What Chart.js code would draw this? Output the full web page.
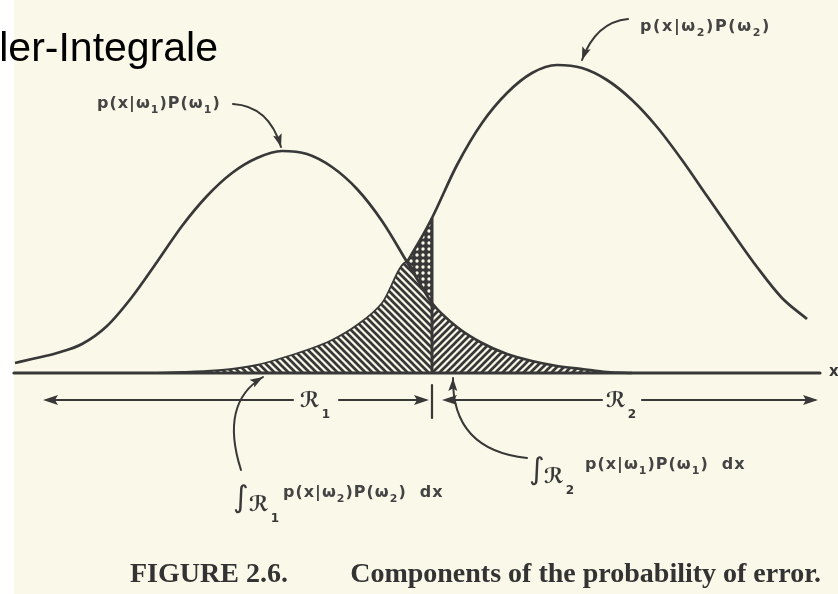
<!DOCTYPE html>
<html>
<head>
<meta charset="utf-8">
<script src="https://cdn.jsdelivr.net/npm/chart.js@4.4.1/dist/chart.umd.min.js"></script>
<style>
  html, body { margin: 0; padding: 0; background: #fff; }
  #wrap { width: 838px; height: 594px; }
</style>
</head>
<body>
<div id="wrap"><canvas id="c" width="838" height="594"></canvas></div>
<script>
// shared x grid for both class curves
const xs = [-8.34, -8, -7.5, -7, -6.5, -6, -5.5, -5, -4.5, -4, -3.5, -3, -2.5, -2, -1.5, -1,
            -0.5, -0.25, 0, 0.5, 1, 1.5, 2, 2.5, 3, 3.5, 4, 4.5, 5, 5.5, 6, 6.5, 7, 7.5];
// p(x|w1)P(w1)
const p1 = [0.10, 0.14, 0.20, 0.29, 0.47, 0.76, 1.11, 1.47, 1.77, 2.00, 2.15, 2.22, 2.19, 2.06, 1.84, 1.52,
            1.11, 0.90, 0.70, 0.46, 0.30, 0.19, 0.12, 0.07, 0.04, 0.01, 0.00, null, null, null, null, null, null, null];
// p(x|w2)P(w2)
const p2 = [null, null, null, null, null, null, 0.00, 0.01, 0.02, 0.04, 0.08, 0.15, 0.23, 0.33, 0.48, 0.70,
            1.11, 1.32, 1.55, 2.08, 2.50, 2.80, 3.00, 3.08, 3.05, 2.93, 2.73, 2.46, 2.13, 1.77, 1.41, 1.06, 0.75, 0.54];
const boundary = 0;     // decision point between R1 and R2
const crossing = -0.5;  // where the two curves meet

const ink = '#383838';
const paperColor = '#faf8e8';

const ctx = document.getElementById('c').getContext('2d');

function hatch(dir) {
  const s = 7, c = document.createElement('canvas');
  c.width = c.height = s;
  const g = c.getContext('2d');
  g.strokeStyle = ink; g.lineWidth = 2.7;
  g.beginPath();
  if (dir > 0) {
    g.moveTo(-1, s + 1); g.lineTo(s + 1, -1);
    g.moveTo(-1, 1); g.lineTo(1, -1);
    g.moveTo(s - 1, s + 1); g.lineTo(s + 1, s - 1);
  } else {
    g.moveTo(-1, -1); g.lineTo(s + 1, s + 1);
    g.moveTo(s - 1, -1); g.lineTo(s + 1, 1);
    g.moveTo(-1, s - 1); g.lineTo(1, s + 1);
  }
  g.stroke();
  return ctx.createPattern(c, 'repeat');
}
function dots() {
  const s = 6, c = document.createElement('canvas');
  c.width = c.height = s;
  const g = c.getContext('2d');
  g.fillStyle = ink; g.fillRect(0, 0, s, s);
  g.fillStyle = paperColor;
  g.beginPath(); g.arc(3, 3, 1.7, 0, Math.PI * 2); g.fill();
  return ctx.createPattern(c, 'repeat');
}

const pts = arr => xs.map((x, i) => ({ x, y: arr[i] }));
const keep = (arr, test) => xs.map((x, i) => ({ x, y: test(x) && arr[i] != null ? arr[i] : null }));

// error areas
const errR1 = xs.map((x, i) => ({ x, y: x <= boundary && p2[i] != null ? Math.min(p1[i], p2[i]) : null }));
const errR2 = keep(p1, x => x >= boundary);
const gapTop = keep(p2, x => x >= crossing && x <= boundary);
const gapBottom = keep(p1, x => x >= crossing && x <= boundary);
const p2Upper = keep(p2, x => x >= crossing);
const p2AtBoundary = p2[xs.indexOf(boundary)];

// ---- decorations drawn through the scales ----
function arrowHead(g, tx, ty, ang, len = 13, half = 4.5) {
  g.save();
  g.translate(tx, ty); g.rotate(ang);
  g.beginPath(); g.moveTo(0, 0); g.lineTo(-len, -half); g.lineTo(-len * 0.8, 0); g.lineTo(-len, half);
  g.closePath(); g.fill();
  g.restore();
}
function curvedArrow(g, X, Y, s, c, t) {
  const [sx, sy, cx, cy, tx, ty] = [X(s[0]), Y(s[1]), X(c[0]), Y(c[1]), X(t[0]), Y(t[1])];
  g.beginPath(); g.moveTo(sx, sy); g.quadraticCurveTo(cx, cy, tx, ty); g.stroke();
  arrowHead(g, tx, ty, Math.atan2(ty - cy, tx - cx));
}
// lettering with subscripts, drawn glyph by glyph so it can be spaced out
function rich(g, x, y, parts, size, gap = 1) {
  for (const [t, sub] of parts) {
    g.font = `bold ${sub ? Math.round(size * 0.7) : size}px "DejaVu Sans"`;
    for (const ch of t) {
      g.fillText(ch, x, sub ? y + size * 0.3 : y);
      x += g.measureText(ch).width + gap;
    }
  }
  return x;
}
function label(w) {
  return [['p(x|ω'], [w, 1], [')P(ω'], [w, 1], [')']];
}
function scriptR(g, x, y, n) {
  g.font = 'bold 21px "DejaVu Sans"';
  g.fillText('ℛ', x, y);
  const w = g.measureText('ℛ').width;
  g.font = 'bold 12px "DejaVu Sans"';
  g.fillText(n, x + w + 2, y + 11);
}

const paper = {
  id: 'paper',
  beforeDraw(chart) {
    const g = chart.ctx;
    g.save();
    g.fillStyle = paperColor; g.fillRect(0, 0, chart.width, chart.height);
    g.fillStyle = '#ffffff'; g.fillRect(0, 0, 14, chart.height);
    g.restore();
  }
};

const notes = {
  id: 'notes',
  afterDatasetsDraw(chart) {
    const g = chart.ctx, X = v => chart.scales.x.getPixelForValue(v), Y = v => chart.scales.y.getPixelForValue(v);
    g.save();
    g.strokeStyle = ink; g.fillStyle = ink; g.lineCap = 'round';

    // x axis
    g.lineWidth = 3.2;
    g.beginPath(); g.moveTo(X(-8.36), Y(0)); g.lineTo(X(7.76), Y(0)); g.stroke();
    g.font = 'bold 15px "DejaVu Sans"'; g.textBaseline = 'middle';
    g.fillText('x', X(7.94), Y(0.01));
    g.textBaseline = 'alphabetic';

    // region arrows
    const ay = -0.27;
    g.lineWidth = 2.2;
    const seg = (a, b) => { g.beginPath(); g.moveTo(X(a), Y(ay)); g.lineTo(X(b), Y(ay)); g.stroke(); };
    seg(-7.7, -2.78); seg(-1.86, -0.15);
    seg(0.3, 3.4); seg(4.2, 7.65);
    arrowHead(g, X(-7.78), Y(ay), Math.PI, 15, 5);
    arrowHead(g, X(-0.06), Y(ay), 0, 15, 5);
    arrowHead(g, X(0.2), Y(ay), Math.PI, 15, 5);
    arrowHead(g, X(7.72), Y(ay), 0, 15, 5);
    g.beginPath(); g.moveTo(X(boundary), Y(-0.12)); g.lineTo(X(boundary), Y(-0.45)); g.stroke();
    scriptR(g, X(-2.64), Y(-0.34), '1');
    scriptR(g, X(3.48), Y(-0.34), '2');

    // curve labels
    g.lineWidth = 2;
    g.fillStyle = '#444';
    rich(g, X(-6.7), Y(2.65), label('1'), 16);
    rich(g, X(4.16), Y(3.42), label('2'), 16, 1.6);
    g.fillStyle = ink;
    curvedArrow(g, X, Y, [-3.98, 2.69], [-3.26, 2.67], [-3.02, 2.26]);
    curvedArrow(g, X, Y, [3.92, 3.54], [3.28, 3.51], [3.0, 3.13]);

    // error integrals
    const integral = (x0, y0, w, n, dInt, dR) => {
      const bx = X(x0), by = Y(y0);
      g.fillStyle = ink;
      g.font = '30px "DejaVu Sans"';
      g.fillText('∫', bx + dInt, by + 10);
      scriptR(g, bx + dR, by + 14, n);
      g.fillStyle = '#444';
      rich(g, bx, by, [...label(w), ['  dx']], 16);
    };
    integral(-2.98, -1.24, '2', '1', -50, -34);
    integral(3.06, -0.96, '1', '2', -56, -41);
    g.fillStyle = ink;
    curvedArrow(g, X, Y, [-3.82, -0.97], [-4.25, -0.3], [-3.38, -0.04]);
    curvedArrow(g, X, Y, [1.9, -0.85], [0.4, -0.77], [0.42, -0.05]);

    // caption and heading
    g.fillStyle = '#333';
    g.font = 'bold 28px "Liberation Serif"';
    g.fillText('FIGURE 2.6.', 130, 582);
    g.textAlign = 'right';
    g.fillText('Components of the probability of error.', 821, 582);
    g.fillStyle = '#000';
    g.font = '41px "Liberation Sans"';
    g.fillText('ler-Integrale', 218, 61);
    g.restore();
  }
};

const line = (data, width) => ({
  data, borderColor: ink, borderWidth: width, fill: false,
  cubicInterpolationMode: 'monotone', pointRadius: 0, order: 1
});

new Chart(ctx, {
  type: 'line',
  data: {
    datasets: [
      line(pts(p1), 2.7),
      line(p2Upper, 2.7),
      line([{ x: boundary, y: 0 }, { x: boundary, y: p2AtBoundary }], 3),
      { data: errR1, fill: 'origin', backgroundColor: hatch(-1), borderColor: ink, borderWidth: 1.8,
        cubicInterpolationMode: 'monotone', pointRadius: 0, order: 5 },
      { data: errR2, fill: 'origin', backgroundColor: hatch(1), borderWidth: 0,
        cubicInterpolationMode: 'monotone', pointRadius: 0, order: 5 },
      { data: gapTop, fill: '+1', backgroundColor: dots(), borderWidth: 0,
        cubicInterpolationMode: 'monotone', pointRadius: 0, order: 5 },
      { data: gapBottom, fill: false, borderWidth: 0,
        cubicInterpolationMode: 'monotone', pointRadius: 0, order: 5 }
    ]
  },
  options: {
    responsive: false,
    animation: false,
    events: [],
    layout: { padding: 0 },
    plugins: {
      legend: { display: false },
      tooltip: { enabled: false },
      filler: { drawTime: 'beforeDatasetsDraw' }
    },
    scales: {
      x: { type: 'linear', min: -8.64, max: 8.12, display: false },
      y: { min: -2.21, max: 3.73, display: false }
    }
  },
  plugins: [paper, notes]
});
</script>
</body>
</html>
